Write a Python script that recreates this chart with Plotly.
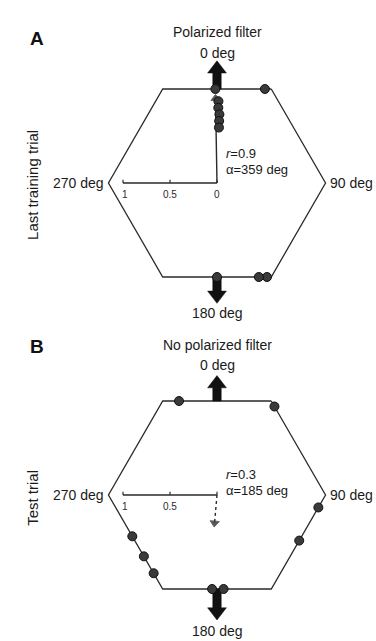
import numpy as np
import plotly.graph_objects as go

# ---------------- data ----------------
panel_letters = ["A", "B"]
panel_titles = ["Polarized filter", "No polarized filter"]
row_titles = ["Last training trial", "Test trial"]
compass_angles = [0, 90, 180, 270]
compass_labels = ["0 deg", "90 deg", "180 deg", "270 deg"]

# individual headings (deg, clockwise from 0) and radial position as a fraction of the hexagon edge
a_theta = [359, 1, 1, 2, 2, 2, 27, 152, 156, 180]
a_rel_r = [1.0, 0.87, 0.80, 0.73, 0.66, 0.59, 1.0, 1.0, 1.0, 1.0]
b_theta = [338, 33, 97, 119, 176, 183, 219, 230, 244]
b_rel_r = [1.0, 1.0, 1.0, 1.0, 1.0, 1.0, 1.0, 1.0, 1.0]

# mean vectors
mean_r = [0.9, 0.3]
mean_alpha = [359, 185]

# scale bar
scale_ticks = [1, 0.5, 0]
scale_tick_labels = [["1", "0.5", "0"], ["1", "0.5", ""]]

# filter-axis arrows (direction, deg)
filter_arrow_dirs = [0, 180]

# ---------------- helpers ----------------
APOTHEM = 1.0
CIRCUM = 2 / np.sqrt(3)
INK = "#2a2a2a"
FONT = "Liberation Sans, Arial, sans-serif"


def to_xy(theta_deg, r):
    t = np.radians(np.asarray(theta_deg, dtype=float))
    r = np.asarray(r, dtype=float)
    return r * np.sin(t), r * np.cos(t)


def edge_r(theta_deg):
    d = ((np.asarray(theta_deg, dtype=float) + 30) % 60) - 30
    return APOTHEM / np.cos(np.radians(d))


def arrow_polygon(direction, r0, r1, w=0.045, W=0.10, h=0.13):
    along = [r0, r1 - h, r1 - h, r1, r1 - h, r1 - h, r0, r0]
    across = [-w, -w, -W, 0, W, w, w, -w]
    t = np.radians(direction)
    ex, ey = np.sin(t), np.cos(t)          # along unit vector
    nx, ny = np.cos(t), -np.sin(t)         # perpendicular
    xs = [a * ex + c * nx for a, c in zip(along, across)]
    ys = [a * ey + c * ny for a, c in zip(along, across)]
    return xs, ys


fig = go.Figure()

panels = [
    dict(theta=a_theta, rel=a_rel_r, xa="x", ya="y", arrow_tips=[1.30, 1.28], dash="solid",
         title_y=1.606, top_lab_y=1.383, bot_lab_y=-1.383, stat_y=[0.315, 0.145],
         letter_y=1.532, row_y=-0.02),
    dict(theta=b_theta, rel=b_rel_r, xa="x2", ya="y2", arrow_tips=[1.27, 1.33], dash="dot",
         title_y=1.596, top_lab_y=1.383, bot_lab_y=-1.445, stat_y=[0.215, 0.045],
         letter_y=1.581, row_y=-0.03),
]

annotations = []
for i, p in enumerate(panels):
    xa, ya = p["xa"], p["ya"]
    # hexagon
    hv = [30, 90, 150, 210, 270, 330, 30]
    hx, hy = to_xy(hv, [CIRCUM] * len(hv))
    fig.add_trace(go.Scatter(x=hx, y=hy, mode="lines", line=dict(color=INK, width=1.3),
                             xaxis=xa, yaxis=ya, hoverinfo="skip", showlegend=False))
    # filter arrows
    for d, tip in zip(filter_arrow_dirs, p["arrow_tips"]):
        ax_, ay_ = arrow_polygon(d, APOTHEM, tip)
        fig.add_trace(go.Scatter(x=ax_, y=ay_, mode="lines", fill="toself", fillcolor="#111111",
                                 line=dict(color="#111111", width=0.5), xaxis=xa, yaxis=ya,
                                 hoverinfo="skip", showlegend=False))
    # scale bar
    sx, sy = to_xy([270, 270], [scale_ticks[0], scale_ticks[-1]])
    fig.add_trace(go.Scatter(x=sx, y=sy, mode="lines", line=dict(color=INK, width=1.3),
                             xaxis=xa, yaxis=ya, hoverinfo="skip", showlegend=False))
    for tv, tl in zip(scale_ticks, scale_tick_labels[i]):
        tx, ty = to_xy(270, tv)
        fig.add_trace(go.Scatter(x=[tx, tx], y=[ty, ty + 0.035], mode="lines",
                                 line=dict(color=INK, width=1.2), xaxis=xa, yaxis=ya,
                                 hoverinfo="skip", showlegend=False))
        if tl:
            annotations.append(dict(x=float(tx) + (0.02 if tv == 1 else 0), y=-0.12, xref=xa, yref=ya,
                                    text=tl, showarrow=False,
                                    font=dict(size=10, color=INK, family=FONT)))
    # mean vector
    mx, my = to_xy([mean_alpha[i], mean_alpha[i]], [0, mean_r[i]])
    fig.add_trace(go.Scatter(x=mx, y=my, mode="lines+markers",
                             line=dict(color=INK, width=1.4, dash=p["dash"]),
                             marker=dict(symbol="triangle-up", size=[0, 8], angleref="previous",
                                         color="#111111"),
                             xaxis=xa, yaxis=ya, hoverinfo="skip", showlegend=False))
    # individual points
    r = edge_r(p["theta"]) * np.asarray(p["rel"])
    px, py = to_xy(p["theta"], r)
    fig.add_trace(go.Scatter(x=px, y=py, mode="markers",
                             marker=dict(size=9, color="#3a3a3a", line=dict(color="#111111", width=1)),
                             xaxis=xa, yaxis=ya, hoverinfo="skip", showlegend=False))

    f14 = dict(size=14, color="#1a1a1a", family=FONT)
    f13 = dict(size=13, color="#1a1a1a", family=FONT)
    annotations += [
        dict(x=0, y=p["title_y"], text=panel_titles[i], font=f14),
        dict(x=0, y=p["top_lab_y"], text=compass_labels[0], font=f14),
        dict(x=0, y=p["bot_lab_y"], text=compass_labels[2], font=f14),
        dict(x=CIRCUM + 0.04, y=0, text=compass_labels[1], xanchor="left", font=f14),
        dict(x=-CIRCUM - 0.04, y=0, text=compass_labels[3], xanchor="right", font=f14),
        dict(x=0.085, y=p["stat_y"][0], text=f"<i>r</i>={mean_r[i]}", xanchor="left", font=f13),
        dict(x=0.085, y=p["stat_y"][1], text=f"α={mean_alpha[i]} deg", xanchor="left", font=f13),
        dict(x=-1.915, y=p["letter_y"], text=f"<b>{panel_letters[i]}</b>",
             font=dict(size=19, color="#111111", family=FONT)),
        dict(x=-1.957, y=p["row_y"], text=row_titles[i], textangle=-90,
             font=dict(size=15, color="#1a1a1a", family=FONT)),
    ]
    for a in annotations[-9:]:
        a.setdefault("xref", xa)
        a.setdefault("yref", ya)
        a.setdefault("showarrow", False)
        a.setdefault("borderpad", 0)

# axes: 94 px per unit, centres at (217,183) and (217,495)
W, H = 376, 641
PPU = 94.0
cx = 217
centres = [183, 495]
pix_spans = [(0, 320), (320, 641)]
xrange_ = [-cx / PPU, (W - cx) / PPU]
ax_common = dict(visible=False, showgrid=False, zeroline=False, fixedrange=True)
layout_axes = {}
for i, (c, (top, bot)) in enumerate(zip(centres, pix_spans)):
    sfx = "" if i == 0 else "2"
    layout_axes["xaxis" + sfx] = dict(range=xrange_, domain=[0, 1], anchor="y" + sfx, **ax_common)
    layout_axes["yaxis" + sfx] = dict(range=[(c - bot) / PPU, (c - top) / PPU],
                                      domain=[1 - bot / H, 1 - top / H], anchor="x" + sfx, **ax_common)

fig.update_layout(width=W, height=H, autosize=False, margin=dict(l=0, r=0, t=0, b=0),
                  paper_bgcolor="white", plot_bgcolor="white", showlegend=False,
                  annotations=annotations, **layout_axes)

fig.write_html("out.html", config={"displayModeBar": False})
